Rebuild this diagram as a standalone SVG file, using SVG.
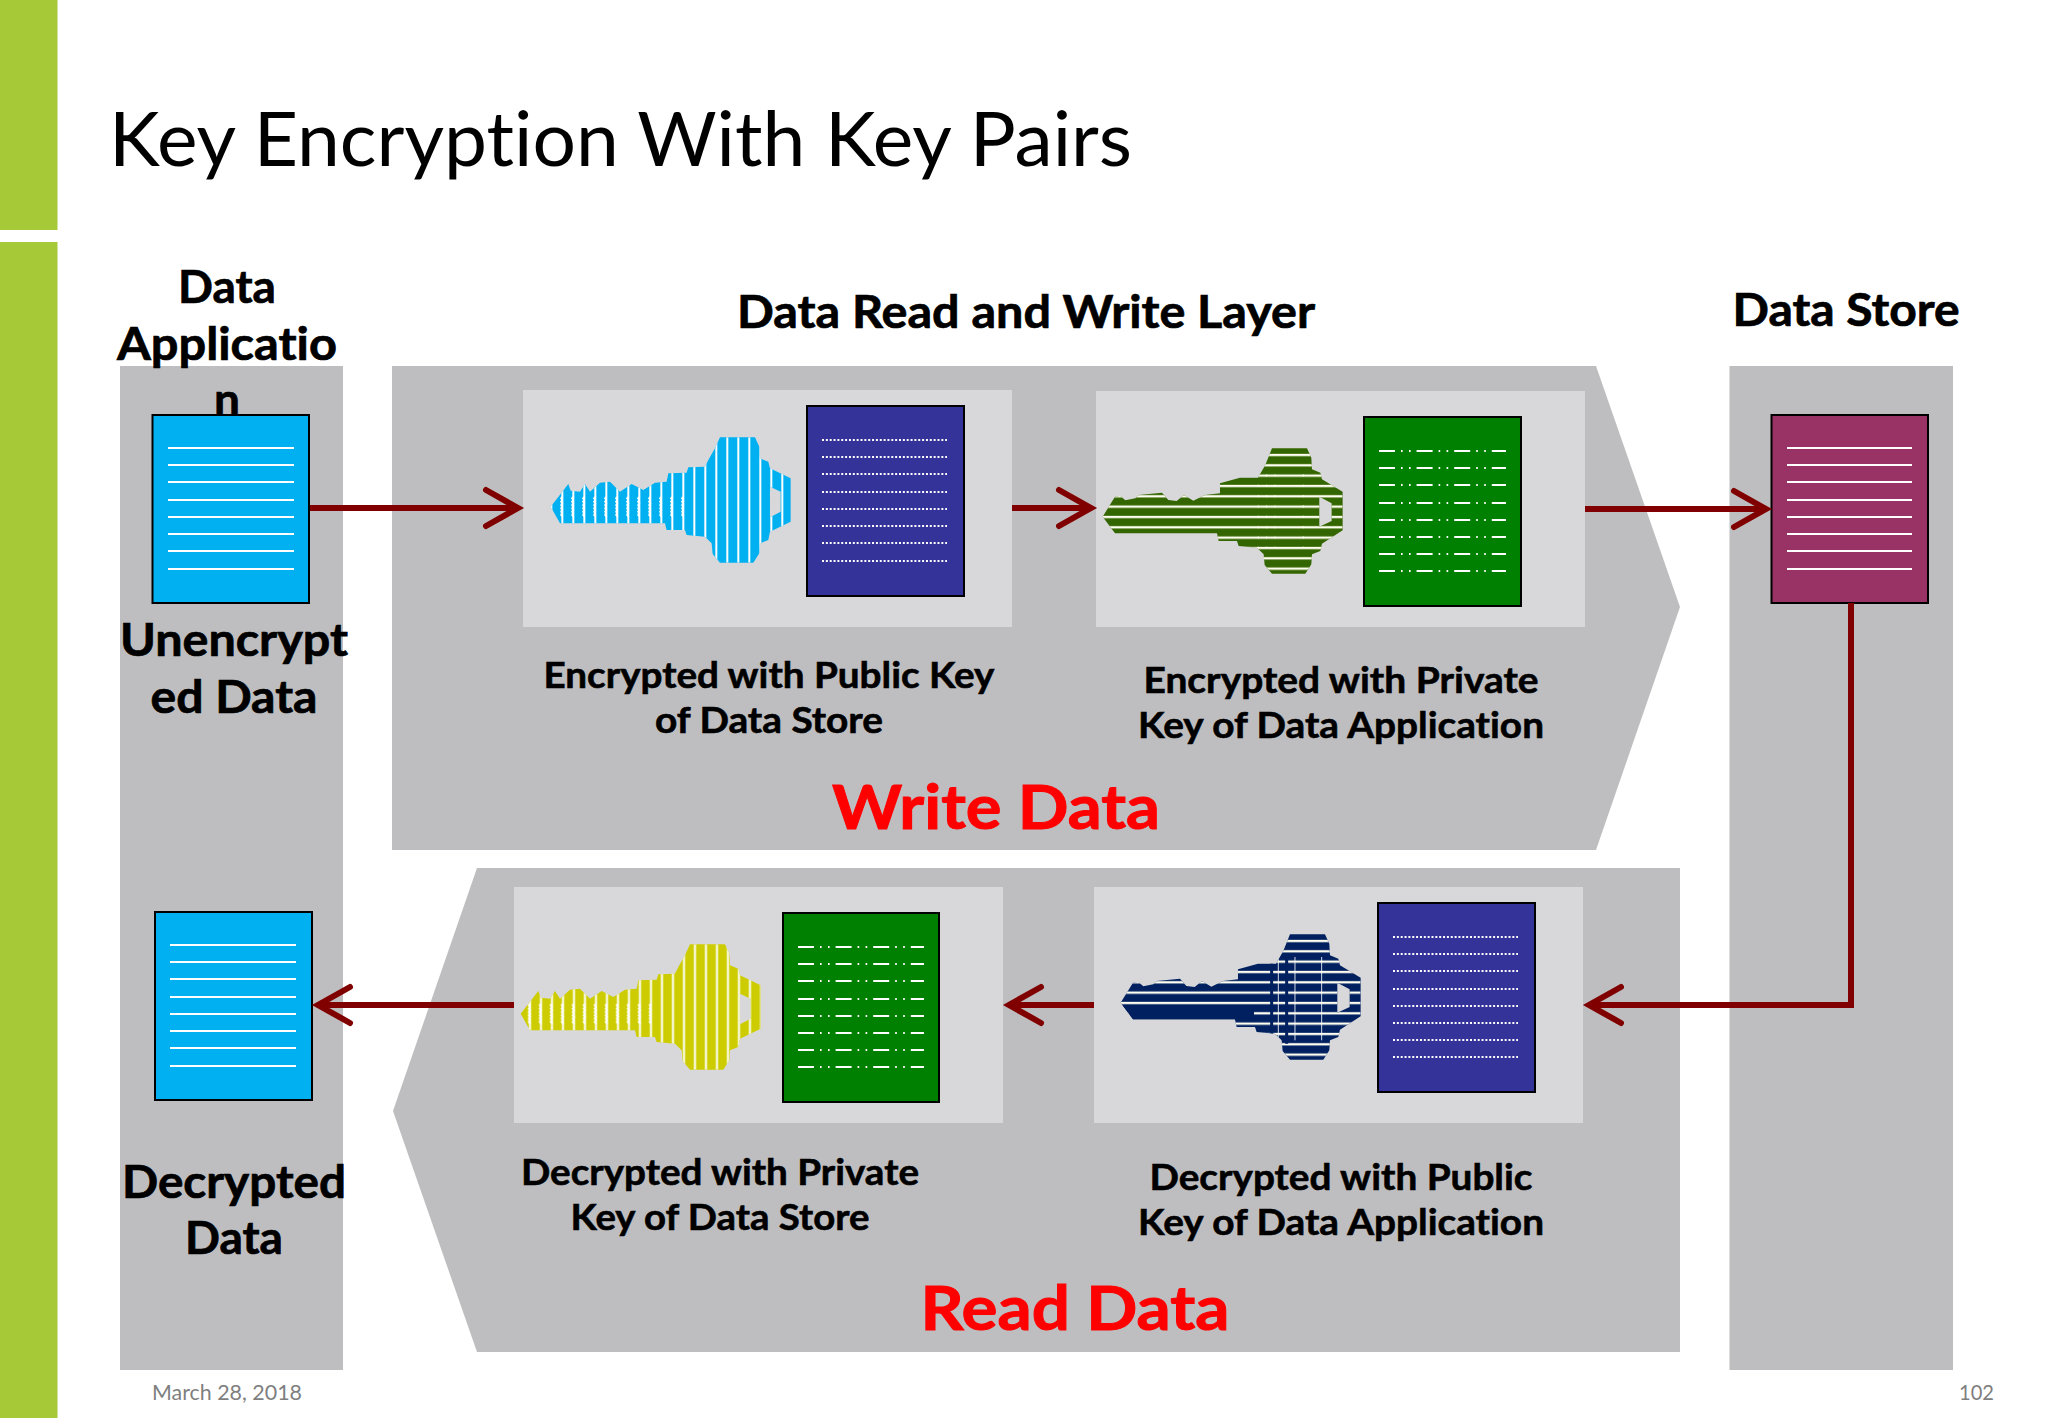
<svg xmlns="http://www.w3.org/2000/svg" width="2048" height="1418" viewBox="0 0 2048 1418">
<style>
text{font-family:"Lato","Liberation Sans",sans-serif;font-variant-ligatures:none}
.title{font-size:76px;fill:#000}
.h{font-size:46px;font-weight:700;fill:#000;stroke:#000;stroke-width:.7;text-anchor:middle}
.s{font-size:37px;font-weight:700;fill:#000;stroke:#000;stroke-width:.6;text-anchor:middle}
.big{font-size:62px;font-weight:700;fill:#ff0000;stroke:#ff0000;stroke-width:1;text-anchor:middle}
.foot{font-size:21px;fill:#7f7f7f}
.col{fill:#bebec0}
.panel{fill:#d8d8da}
.doc{stroke:#000;stroke-width:2}
.cy{fill:#00b0f0}.nv{fill:#333399}.gr{fill:#008000}.pu{fill:#993366}
.l{stroke:#fff;stroke-width:2;fill:none}
.dot{stroke-dasharray:2 1.85}
.dd{stroke-dasharray:16 6 1.6 6.4 1.6 6}
.c{fill:none;stroke:#800000;stroke-width:6}
.h2{fill:none;stroke:#800000;stroke-width:6;stroke-linecap:round}
.tk{fill:none;stroke:#fffff0;stroke-width:2.5;stroke-dasharray:7 24}
</style>
<defs>
<path id="keyS" fill-rule="evenodd" clip-rule="evenodd" d="M92 380L145 312L152 332L180 335L195 312L210 335L240 308L270 305L300 335L335 312L370 330L405 308L440 305L445 280L500 278L505 262L555 260L565 240L585 205L600 172L705 172L718 200L720 235L745 245L750 265L812 295L812 425L750 455L745 480L720 490L718 520L700 548L600 548L578 522L575 490L555 470L500 465L495 450L440 450L435 430L120 430ZM750 320L782 335L782 395L750 412Z"/>
<path id="keyH" fill-rule="evenodd" clip-rule="evenodd" d="M92 377L129 317L145 315L160 328L190 322L200 312L270 305L289 327L314 330L336 312L364 329L399 312L444 307L444 277L504 260L558 260L580 222L600 172L705 172L718 200L720 235L745 245L750 265L812 302L812 418L750 458L745 480L720 490L718 520L700 548L600 548L578 522L575 490L555 470L500 465L495 450L440 450L435 427L129 427ZM742 317L779 337L779 390L742 407Z"/>
<clipPath id="keyC"><use href="#keyS"/></clipPath>
<clipPath id="keyD"><use href="#keyH"/></clipPath>
<pattern id="vs" width="33" height="10" patternUnits="userSpaceOnUse"><rect x="25" width="6" height="10" fill="#fff"/></pattern>
<pattern id="wg" width="33" height="20" patternUnits="userSpaceOnUse"><path d="M28 0L24 5L28 10L24 15L28 20" fill="none" stroke="#fff" stroke-width="5"/></pattern>
<pattern id="hs" width="10" height="31" patternUnits="userSpaceOnUse"><rect y="2.5" width="10" height="7" fill="#fffff0"/></pattern>
</defs>

<rect width="2048" height="1418" fill="#fff"/>
<g id="side-bar"><rect width="57.5" height="230" fill="#a6ca37"/><rect y="242" width="57.5" height="1176" fill="#a6ca37"/></g>
<text id="title" class="title" x="109" y="166" textLength="1023" lengthAdjust="spacingAndGlyphs">Key Encryption With Key Pairs</text>

<g id="col-app"><rect class="col" x="120" y="366" width="223" height="1004"/></g>
<g id="col-store"><rect class="col" x="1729.5" y="366" width="223.5" height="1004"/></g>
<g id="write-band"><path class="col" d="M392 366H1596L1680 607L1596 850H392Z"/></g>
<g id="read-band"><path class="col" d="M477 868H1680V1352H477L393 1111Z"/></g>

<g id="headers">
<text class="h" x="227" y="303">Data</text>
<text class="h" x="227" y="360" textLength="220" lengthAdjust="spacingAndGlyphs">Applicatio</text>
<text class="h" x="227" y="416">n</text>
<text class="h" x="1026" y="328" textLength="578" lengthAdjust="spacingAndGlyphs">Data Read and Write Layer</text>
<text class="h" x="1846" y="326" textLength="227" lengthAdjust="spacingAndGlyphs">Data Store</text>
</g>

<g id="doc-unencrypted"><rect class="doc cy" x="152.5" y="415" width="156.5" height="188"/>
<path class="l" d="M168 448H294M168 465H294M168 482H294M168 500H294M168 517H294M168 534H294M168 551H294M168 569H294"/>
<text class="h" x="234" y="656" textLength="228" lengthAdjust="spacingAndGlyphs">Unencrypt</text>
<text class="h" x="234" y="713" textLength="167" lengthAdjust="spacingAndGlyphs">ed Data</text></g>

<g id="doc-decrypted"><rect class="doc cy" x="155" y="912" width="157" height="188"/>
<path class="l" d="M170 945H296M170 962H296M170 979H296M170 997H296M170 1014H296M170 1031H296M170 1048H296M170 1066H296"/>
<text class="h" x="234" y="1198" textLength="224" lengthAdjust="spacingAndGlyphs">Decrypted</text>
<text class="h" x="234" y="1254">Data</text></g>

<g id="doc-store"><rect class="doc pu" x="1771.5" y="415" width="156.5" height="188"/>
<path class="l" d="M1787 448H1912M1787 465H1912M1787 482H1912M1787 500H1912M1787 517H1912M1787 534H1912M1787 551H1912M1787 569H1912"/></g>

<g id="step-encrypt-public">
<rect class="panel" x="523" y="390" width="489" height="237"/>
<g transform="translate(520 380) scale(.3333)"><use href="#keyS" fill="#00b0f0"/><g clip-path="url(#keyC)"><rect x="90" y="170" width="730" height="380" fill="url(#vs)"/><rect x="92" y="350" width="400" height="60" fill="url(#wg)"/></g></g>
<rect class="doc nv" x="807" y="406" width="157" height="190"/>
<path class="l dot" d="M822 440H947M822 457H947M822 474H947M822 492H947M822 509H947M822 526H947M822 543H947M822 561H947"/>
<text class="s" x="769" y="688" textLength="451" lengthAdjust="spacingAndGlyphs">Encrypted with Public Key</text>
<text class="s" x="769" y="733" textLength="228" lengthAdjust="spacingAndGlyphs">of Data Store</text>
</g>

<g id="step-encrypt-private">
<rect class="panel" x="1096" y="391" width="489" height="236"/>
<g transform="translate(1072 391) scale(.3333)"><use href="#keyH" fill="#336600"/><g clip-path="url(#keyD)"><rect x="90" y="170" width="730" height="380" fill="url(#hs)"/><path class="tk" d="M559 250V470M584 250V470M609 250V470M694 250V470"/></g></g>
<rect class="doc gr" x="1364" y="417" width="157" height="189"/>
<path class="l dd" d="M1379 451H1506M1379 468H1506M1379 485H1506M1379 503H1506M1379 520H1506M1379 537H1506M1379 554H1506M1379 571H1506"/>
<text class="s" x="1341" y="693" textLength="395" lengthAdjust="spacingAndGlyphs">Encrypted with Private</text>
<text class="s" x="1341" y="738" textLength="406" lengthAdjust="spacingAndGlyphs">Key of Data Application</text>
</g>

<g id="step-decrypt-private">
<rect class="panel" x="514" y="887" width="489" height="236"/>
<g transform="translate(490 887) scale(.3333)"><use href="#keyS" fill="#cccc00"/><g clip-path="url(#keyC)"><g transform="translate(-7 0)"><rect x="90" y="170" width="740" height="380" fill="url(#vs)"/><rect x="92" y="350" width="400" height="60" fill="url(#wg)"/></g></g></g>
<rect class="doc gr" x="783" y="913" width="156" height="189"/>
<path class="l dd" d="M798 947H924M798 964H924M798 981H924M798 999H924M798 1016H924M798 1033H924M798 1050H924M798 1067H924"/>
<text class="s" x="720" y="1185" textLength="398" lengthAdjust="spacingAndGlyphs">Decrypted with Private</text>
<text class="s" x="720" y="1230" textLength="299" lengthAdjust="spacingAndGlyphs">Key of Data Store</text>
</g>

<g id="step-decrypt-public">
<rect class="panel" x="1094" y="887" width="489" height="236"/>
<g transform="translate(1090 877) scale(.3333)"><use href="#keyH" fill="#002060"/><g clip-path="url(#keyD)"><rect x="90" y="170" width="730" height="380" fill="url(#hs)"/><rect x="92" y="385" width="400" height="45" fill="#002060"/><path d="M545 230V500M590 230V500" stroke="#002060" stroke-width="9" fill="none"/><path d="M565 240V490M615 240V490M695 240V490" stroke="#fff" stroke-width="2.5" fill="none"/></g></g>
<rect class="doc nv" x="1378" y="903" width="157" height="189"/>
<path class="l dot" d="M1393 937H1518M1393 954H1518M1393 971H1518M1393 989H1518M1393 1006H1518M1393 1023H1518M1393 1040H1518M1393 1057H1518"/>
<text class="s" x="1341" y="1190" textLength="383" lengthAdjust="spacingAndGlyphs">Decrypted with Public</text>
<text class="s" x="1341" y="1235" textLength="406" lengthAdjust="spacingAndGlyphs">Key of Data Application</text>
</g>

<text class="big" x="996" y="829" textLength="328" lengthAdjust="spacingAndGlyphs">Write Data</text>
<text class="big" x="1075" y="1330" textLength="309" lengthAdjust="spacingAndGlyphs">Read Data</text>

<g id="connectors">
<path class="c" d="M310 508H517"/><path class="h2" d="M486 490L518 508L486 526"/>
<path class="c" d="M1012 508H1090"/><path class="h2" d="M1059 490L1091 508L1059 526"/>
<path class="c" d="M1585 509H1765"/><path class="h2" d="M1734 491L1766 509L1734 527"/>
<path class="c" d="M1851 603V1005H1590"/><path class="h2" d="M1621 987L1589 1005L1621 1023"/>
<path class="c" d="M1094 1005H1010"/><path class="h2" d="M1041 987L1009 1005L1041 1023"/>
<path class="c" d="M514 1005H319"/><path class="h2" d="M350 987L318 1005L350 1023"/>
</g>

<g id="footer">
<text class="foot" x="152" y="1400" textLength="150" lengthAdjust="spacingAndGlyphs">March 28, 2018</text>
<text class="foot" x="1959" y="1400" textLength="35" lengthAdjust="spacingAndGlyphs">102</text>
</g>
</svg>
